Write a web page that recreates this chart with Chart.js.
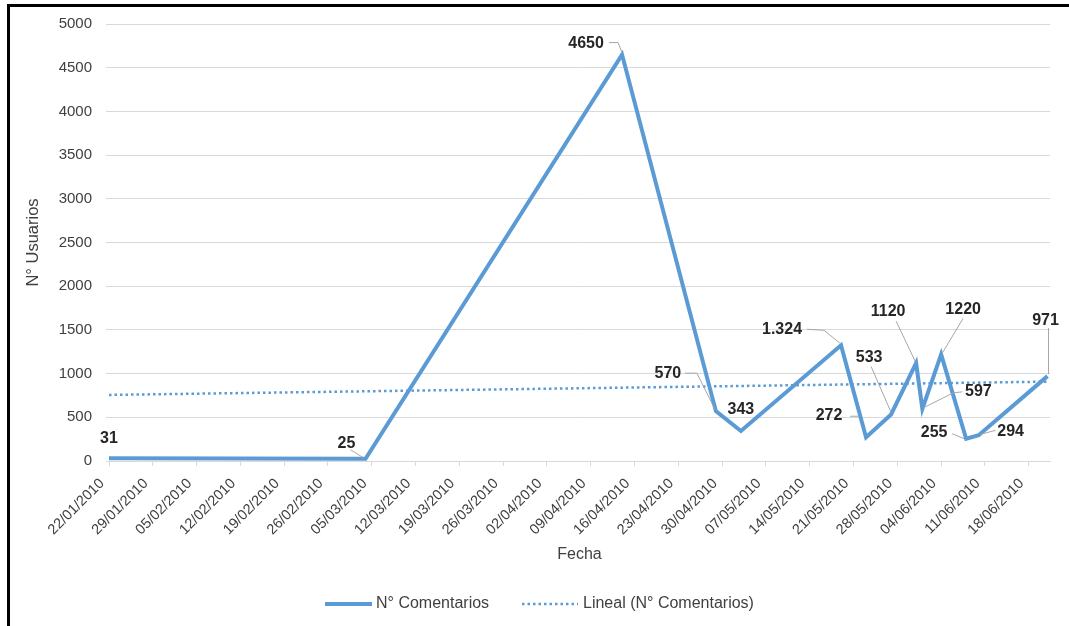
<!DOCTYPE html>
<html>
<head>
<meta charset="utf-8">
<script src="https://cdn.jsdelivr.net/npm/chart.js@4/dist/chart.umd.min.js"></script>
<style>
html,body{margin:0;padding:0;background:#fff;}
#wrap{position:relative;width:1069px;height:626px;overflow:hidden;}
#frame{position:absolute;left:7px;top:4px;width:1100px;height:700px;border-left:3px solid #000;border-top:3px solid #000;pointer-events:none;}
</style>
</head>
<body>
<div id="wrap">
<canvas id="grafico" width="1069" height="626"></canvas>
<div id="frame"></div>
</div>
<script>
// datos
const fechas=['22/01/2010','04/03/2010','14/04/2010','29/04/2010','03/05/2010','19/05/2010','23/05/2010','27/05/2010','31/05/2010','01/06/2010','04/06/2010','08/06/2010','10/06/2010','21/06/2010'];
const comentarios=[31,25,4650,570,343,1324,272,533,1120,597,1220,255,294,971];
const etiquetas=['31','25','4650','570','343','1.324','272','533','1120','597','1220','255','294','971'];
const tendenciaFechas=['22/01/2010','21/06/2010'];
const tendencia=[756,908];
const ejeFechas=['22/01/2010','29/01/2010','05/02/2010','12/02/2010','19/02/2010','26/02/2010','05/03/2010','12/03/2010','19/03/2010','26/03/2010','02/04/2010','09/04/2010','16/04/2010','23/04/2010','30/04/2010','07/05/2010','14/05/2010','21/05/2010','28/05/2010','04/06/2010','11/06/2010','18/06/2010'];

// posicion de cada etiqueta respecto a su punto, y lineas guia
const posEtiqueta=[[0,-20],[-19,-15],[-36,-11],[-48,-38],[0,-21],[-59,-16],[-37,-22],[-22,-57],[-28,-52],[56,-17],[22,-45],[-32,-6],[32,-4],[-2,-56]];
const guias=[
null,
[[-15,-9],[-2,-1]],
[[-13,-12],[-4,-12],[0,-2]],
[[-31,-38],[-19,-38],[-1,-2]],
null,
[[-34,-16],[-17,-15],[-1,-2]],
[[-16,-21],[-7,-21]],
[[-20,-48],[0,-2]],
[[-20,-42],[-1,-2]],
[[40,-17],[31,-16],[1,-1]],
[[22,-36],[1,-1]],
[[-14,-5],[-2,0]],
[[17,-5],[2,-1]],
[[1,-48],[1,-2]]
];

function dayOf(s){
const p=s.split('/').map(Number);
return (Date.UTC(p[2],p[1]-1,p[0])-Date.UTC(2010,0,22))/864e5;
}

Chart.defaults.font.family='"Liberation Sans", Arial, sans-serif';

const azul='#5b9bd5';

const etiquetasPlugin={
id:'etiquetasDatos',
afterDatasetsDraw(chart){
const ctx=chart.ctx;
const meta=chart.getDatasetMeta(0);
ctx.save();
meta.data.forEach((pt,i)=>{
const g=guias[i];
if(g){
ctx.strokeStyle='#a6a6a6';
ctx.lineWidth=1;
ctx.beginPath();
g.forEach((o,j)=>{
if(j===0)ctx.moveTo(pt.x+o[0],pt.y+o[1]);
else ctx.lineTo(pt.x+o[0],pt.y+o[1]);
});
ctx.stroke();
}
ctx.fillStyle='#262626';
ctx.font='bold 16px "Liberation Sans", Arial, sans-serif';
ctx.textAlign='center';
ctx.textBaseline='middle';
ctx.fillText(etiquetas[i],pt.x+posEtiqueta[i][0],pt.y+posEtiqueta[i][1]);
});
ctx.restore();
}
};

const leyendaPlugin={
id:'leyenda',
afterDraw(chart){
const ctx=chart.ctx;
const ds=chart.data.datasets;
const items=[[325,372,376],[522,578,583]];
ctx.save();
ctx.font='16px "Liberation Sans", Arial, sans-serif';
ctx.textBaseline='middle';
ctx.textAlign='left';
items.forEach((it,i)=>{
ctx.strokeStyle=ds[i].borderColor;
ctx.lineWidth=i===0?4:2.5;
ctx.setLineDash(ds[i].borderDash||[]);
ctx.beginPath();
ctx.moveTo(it[0],604);
ctx.lineTo(it[1],604);
ctx.stroke();
ctx.setLineDash([]);
ctx.fillStyle='#404040';
ctx.fillText(ds[i].label,it[2],604);
});
ctx.restore();
}
};

new Chart(document.getElementById('grafico'),{
type:'line',
data:{
datasets:[
{
label:'N° Comentarios',
data:fechas.map((f,i)=>({x:dayOf(f),y:comentarios[i]})),
borderColor:azul,
borderWidth:4,
pointRadius:0,
tension:0,
fill:false
},
{
label:'Lineal (N° Comentarios)',
data:tendenciaFechas.map((f,i)=>({x:dayOf(f),y:tendencia[i]})),
borderColor:azul,
borderWidth:2.5,
borderDash:[2.5,3],
pointRadius:0,
tension:0,
fill:false
}
]
},
options:{
responsive:false,
animation:false,
layout:{padding:{left:0,top:24,right:19,bottom:50}},
plugins:{legend:{display:false},tooltip:{enabled:false}},
scales:{
x:{
type:'linear',
min:0,
max:150.4,
afterBuildTicks:s=>{s.ticks=ejeFechas.map(f=>({value:dayOf(f)}));},
afterFit:s=>{s.height=115;},
grid:{drawOnChartArea:false,color:'#d9d9d9',tickLength:5},
border:{color:'#d9d9d9'},
ticks:{autoSkip:false,minRotation:45,maxRotation:45,callback:(v,i)=>ejeFechas[i],font:{size:14.5},color:'#404040',padding:9,labelOffset:-7},
title:{display:true,text:'Fecha',font:{size:16},color:'#404040',padding:{bottom:12}}
},
y:{
min:0,
max:5000,
ticks:{stepSize:500,font:{size:15},color:'#404040',padding:14,callback:v=>String(v)},
grid:{color:'#d9d9d9',tickLength:3},
border:{display:false},
afterFit:s=>{s.width=109;},
title:{display:true,text:'N° Usuarios',font:{size:16.5},color:'#404040',padding:{top:24}}
}
}
},
plugins:[etiquetasPlugin,leyendaPlugin]
});
</script>
</body>
</html>
